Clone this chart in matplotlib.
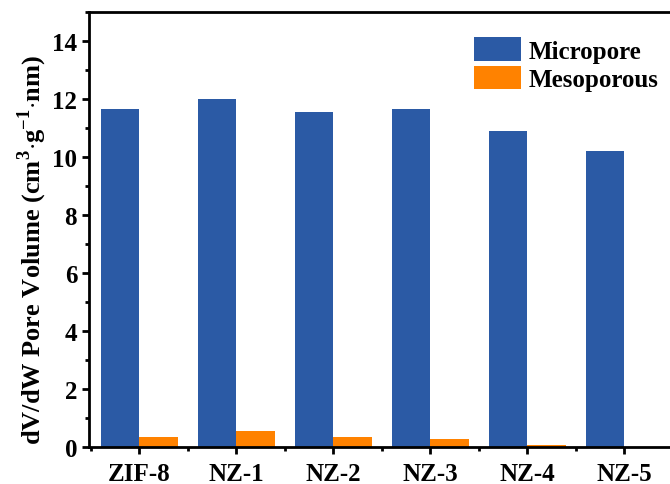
import numpy as np
import matplotlib.pyplot as plt
from matplotlib.ticker import MultipleLocator

# данные
samples = ['ZIF-8', 'NZ-1', 'NZ-2', 'NZ-3', 'NZ-4', 'NZ-5']
micropore = [11.65, 12.0, 11.56, 11.67, 10.9, 10.21]
mesoporous = [0.35, 0.55, 0.36, 0.28, 0.08, 0.0]

blue = '#2B5AA5'
orange = '#FF8200'

plt.rcParams['font.family'] = ['Liberation Serif', 'DejaVu Serif']
plt.rcParams['font.weight'] = 'bold'
plt.rcParams['mathtext.fontset'] = 'custom'
plt.rcParams['mathtext.rm'] = 'Liberation Serif:bold'
plt.rcParams['mathtext.bf'] = 'Liberation Serif:bold'

fig = plt.figure(figsize=(6.7, 4.85), dpi=100)
ax = fig.add_axes([0.1328, 0.0763, 0.8716, 0.897])

x = np.arange(len(samples))
w = 0.4
ax.bar(x - w / 2, micropore, w, color=blue, label='Micropore')
ax.bar(x + w / 2, mesoporous, w, color=orange, label='Mesoporous')

ax.set_xlim(-0.52, 5.5)
ax.set_ylim(0, 15)
ax.set_xticks(x)
ax.set_xticklabels(samples)
ax.xaxis.set_minor_locator(MultipleLocator(1, offset=0.5))
ax.yaxis.set_major_locator(MultipleLocator(2))
ax.yaxis.set_minor_locator(MultipleLocator(1))

for s in ax.spines.values():
    s.set_linewidth(2)
ax.tick_params(which='major', direction='out', length=5, width=2, labelsize=18)
ax.tick_params(which='minor', direction='out', length=3, width=2)
ax.tick_params(axis='x', pad=6)

ax.set_ylabel(r'dV/dW Pore Volume (cm$^{\mathbf{3}}$$\cdot$g$^{\mathbf{-1}}$$\cdot$nm)',
              fontsize=19, fontweight='bold', labelpad=2)
ax.yaxis.label.set_y(0.455)

ax.legend(loc='upper right', bbox_to_anchor=(1.014, 0.993), frameon=False, fontsize=18,
          handlelength=1.9, handleheight=1.05, labelspacing=0.12, handletextpad=0.3)

fig.savefig('out.png', dpi=100)
